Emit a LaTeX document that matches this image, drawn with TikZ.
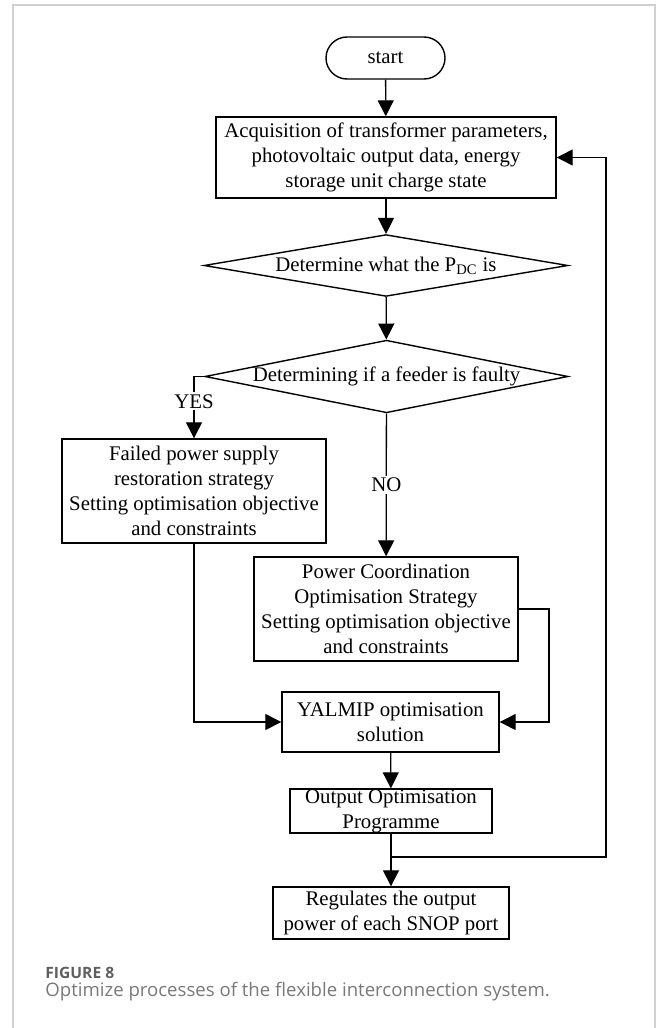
\documentclass[tikz,border=0pt]{standalone}
\usepackage{fontspec}
\setmainfont{Liberation Serif}
\newfontfamily\capfont{Open Sans}
\usetikzlibrary{arrows.meta,positioning,shapes.geometric}
\definecolor{framegray}{RGB}{208,208,208}
\definecolor{capdark}{RGB}{95,95,95}
\definecolor{caplight}{RGB}{120,120,120}
\tikzset{
  fbox/.style ={rectangle, draw=black, line width=0.7pt, inner sep=0pt, align=center,
                font=\fontsize{10.4}{12.5}\selectfont},
  fterm/.style={fbox, rounded corners=10.5pt, minimum width=59.5pt, minimum height=21pt},
  fdec/.style ={diamond, draw=black, line width=0.7pt, inner sep=0pt, aspect=5,
                font=\fontsize{10.4}{12.5}\selectfont},
  fline/.style={line width=0.65pt, black},
  fflow/.style={fline, -{Triangle[length=8pt,width=8pt]}},
  flabel/.style={fill=white, inner sep=1pt, font=\fontsize{10.4}{12.5}\selectfont},
}
\begin{document}
\begin{tikzpicture}[x=0.5pt, y=-0.5pt]
  \useasboundingbox (0,0) rectangle (656,1028);
  \draw[framegray, line width=0.8pt] (13,1028) -- (13,5) -- (655,5) -- (655,1028);
  % flow chart nodes
  \node[fterm] (start) at (385.5,58) {start};
  \node[fbox, minimum width=170pt, minimum height=40.5pt] (acq) at (386,157.5)
    {Acquisition of transformer parameters,\\photovoltaic output data, energy\\storage unit charge state};
  \node[fdec, minimum width=182pt, minimum height=29.5pt] (det) at (386,265.5)
    {Determine what the P\textsubscript{DC} is};
  \node[fdec, minimum width=181.5pt, minimum height=35.5pt] (fault) at (386.5,376.5)
    {Determining if a feeder is faulty};
  \node[fbox, minimum width=132pt, minimum height=52pt] (fail) at (194,491)
    {Failed power supply\\restoration strategy\\Setting optimisation objective\\and constraints};
  \node[fbox, minimum width=132pt, minimum height=52pt] (coord) at (386,609)
    {Power Coordination\\Optimisation Strategy\\Setting optimisation objective\\and constraints};
  \node[fbox, minimum width=108.5pt, minimum height=30pt] (yalmip) at (390.5,722)
    {YALMIP optimisation\\solution};
  \node[fbox, minimum width=101pt, minimum height=22pt] (outprog) at (391,811)
    {Output Optimisation\\Programme};
  \node[fbox, minimum width=118pt, minimum height=26pt] (regul) at (391,913)
    {Regulates the output\\power of each SNOP port};
  \coordinate (coordR) at (549,609);
  \coordinate (fbJoin) at (391,857);
  \coordinate (fbR) at (606,857);
  % connectors
  \draw[fflow] (start) -- (acq);
  \draw[fflow] (acq) -- (det);
  \draw[fflow] (det) -- (fault);
  \draw[fflow] (fault.west) -| node[flabel, pos=0.7] (yes) {YES} (fail.north);
  \draw[fflow] (fault) -- node[flabel] (no) {NO} (coord);
  \draw[fflow] (fail.south) |- (yalmip.west);
  \draw[fflow] (coord.east) -- (coordR) |- (yalmip.east);
  \draw[fflow] (yalmip) -- (outprog);
  \draw[fflow] (outprog) -- (regul);
  \draw[fflow] (fbJoin) -- (fbR) |- (acq.east);
  % caption
  \node[anchor=base west, inner sep=0pt, text=capdark, font=\capfont\bfseries\fontsize{7.8}{9}\selectfont]
    (figno) at (45,978) {FIGURE 8};
  \node[anchor=base west, inner sep=0pt, text=caplight, font=\capfont\fontsize{9.3}{11}\selectfont]
    (figcap) at (45,996) {Optimize processes of the flexible interconnection system.};
\end{tikzpicture}
\end{document}
